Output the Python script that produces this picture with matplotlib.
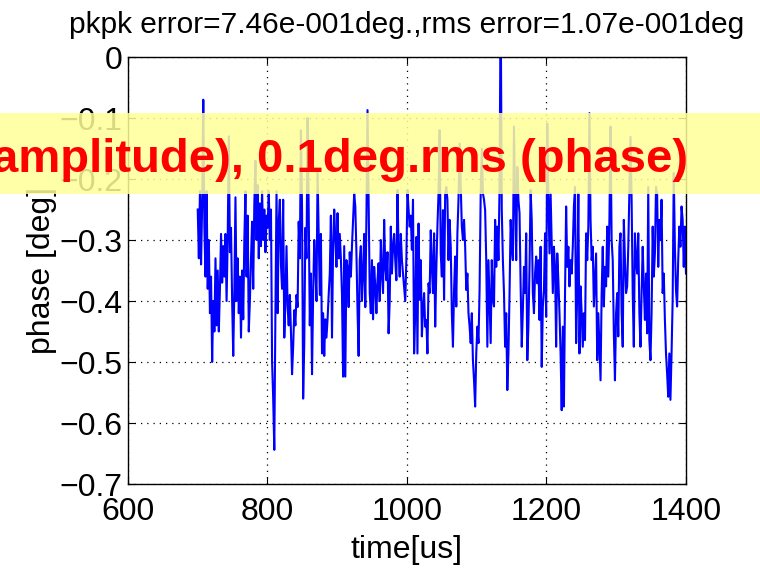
import numpy as np
import matplotlib
matplotlib.use('Agg')
import matplotlib.pyplot as plt
from matplotlib.patches import Rectangle

# phase error samples, ~1.6 us apart, 700..1400 us
seg1 = [-0.25, -0.33, -0.22, -0.34, -0.24, -0.07, -0.28, -0.36, -0.22, -0.38, -0.30, -0.42,
        -0.36, -0.50, -0.40, -0.45, -0.33, -0.44, -0.35, -0.45, -0.38, -0.29, -0.37, -0.31,
        -0.36, -0.29, -0.40, -0.30, -0.13, -0.32, -0.28, -0.40, -0.49, -0.38, -0.23, -0.40,
        -0.33, -0.42, -0.36, -0.46, -0.35, -0.43, -0.30, -0.22, -0.36, -0.26, -0.45, -0.40,
        -0.33, -0.27, -0.38, -0.24, -0.17, -0.30, -0.21, -0.33, -0.24, -0.31, -0.22, -0.30,
        -0.25, -0.32, -0.26, -0.28, -0.22, -0.30]
seg2 = [-0.25, -0.50, -0.56, -0.644, -0.42, -0.22, -0.42, -0.27, -0.234, -0.34, -0.38, -0.234,
        -0.46, -0.40, -0.31, -0.41, -0.44, -0.39, -0.45, -0.52, -0.475, -0.415, -0.44, -0.39,
        -0.41, -0.27, -0.33, -0.12, -0.25, -0.56, -0.47, -0.28, -0.33, -0.10, -0.25, -0.44,
        -0.355, -0.52, -0.39, -0.30, -0.344, -0.40, -0.19, -0.29, -0.39, -0.29, -0.486, -0.42,
        -0.49, -0.43, -0.46, -0.43, -0.39, -0.355, -0.26, -0.46, -0.31, -0.25, -0.30, -0.344,
        -0.256, -0.33, -0.29, -0.33, -0.39, -0.524]
seg3 = [-0.31, -0.524, -0.333, -0.344, -0.41, -0.32, -0.36, -0.31, -0.267, -0.2235, -0.245, -0.32,
        -0.415, -0.49, -0.333, -0.31, -0.40, -0.355, -0.29, -0.41, -0.267, -0.087, -0.234, -0.387,
        -0.42, -0.333, -0.43, -0.344, -0.376, -0.42, -0.366, -0.338, -0.40, -0.30, -0.355, -0.387,
        -0.267, -0.344, -0.366, -0.32, -0.453, -0.40, -0.278, -0.355, -0.31, -0.29, -0.333, -0.366,
        -0.218, -0.316, -0.36, -0.29, -0.333, -0.355, -0.376, -0.40, -0.333, -0.218, -0.25, -0.278,
        -0.26, -0.316, -0.234, -0.486, -0.42, -0.295]
seg4 = [-0.486, -0.273, -0.398, -0.333, -0.458, -0.415, -0.387, -0.442, -0.431, -0.486, -0.371, -0.387,
        -0.284, -0.344, -0.387, -0.289, -0.442, -0.349, -0.278, -0.2235, -0.12, -0.322, -0.36, -0.251,
        -0.398, -0.2235, -0.213, -0.234, -0.333, -0.267, -0.311, -0.42, -0.475, -0.382, -0.327, -0.409,
        -0.289, -0.234, -0.142, -0.207, -0.278, -0.30, -0.267, -0.311, -0.382, -0.355, -0.42, -0.442,
        -0.469, -0.42, -0.497, -0.53, -0.573, -0.486, -0.442, -0.469, -0.382, -0.2235, -0.15, -0.2235,
        -0.234, -0.251, -0.333, -0.475, -0.333, -0.398]
seg5 = [-0.469, -0.333, -0.398, -0.409, -0.267, -0.344, -0.278, -0.333, -0.213, 0.10, -0.251, -0.333,
        -0.387, -0.475, -0.42, -0.546, -0.486, -0.387, -0.267, -0.311, -0.333, -0.114, -0.234, -0.333,
        -0.18, -0.234, -0.256, -0.376, -0.475, -0.415, -0.344, -0.387, -0.289, -0.497, -0.442, -0.344,
        -0.218, -0.267, -0.387, -0.42, -0.355, -0.327, -0.371, -0.333, -0.431, -0.311, -0.508, -0.409,
        -0.382, -0.289, -0.426, -0.109, -0.234, -0.322, -0.2235, -0.305, -0.387, -0.311, -0.344, -0.475,
        -0.322, -0.366, -0.42, -0.486, -0.579, -0.442]
seg6 = [-0.573, -0.387, -0.245, -0.344, -0.311, -0.376, -0.333, -0.355, -0.311, -0.245, -0.213, -0.469,
        -0.387, -0.2235, -0.486, -0.376, -0.42, -0.475, -0.42, -0.464, -0.289, -0.333, -0.278, -0.092,
        -0.267, -0.333, -0.311, -0.409, -0.366, -0.322, -0.497, -0.42, -0.475, -0.53, -0.387, -0.311,
        -0.409, -0.344, -0.376, -0.278, -0.36, -0.267, -0.114, -0.30, -0.333, -0.453, -0.53, -0.42,
        -0.387, -0.458, -0.311, -0.289, -0.42, -0.475, -0.267, -0.333, -0.387, -0.376, -0.311, -0.2235,
        -0.131, -0.234, -0.387, -0.475, -0.289, -0.333]
seg7 = [-0.355, -0.289, -0.42, -0.475, -0.387, -0.311, -0.376, -0.431, -0.355, -0.453, -0.213, -0.464,
        -0.497, -0.42, -0.278, -0.36, -0.322, -0.213, -0.2235, -0.344, -0.267, -0.30, -0.234, -0.387,
        -0.355, -0.431, -0.486, -0.519, -0.557, -0.486, -0.562, -0.486, -0.398, -0.19, -0.311, -0.382,
        -0.409, -0.333, -0.278, -0.311, -0.245, -0.267, -0.344, -0.278, -0.355]

phase = np.array(seg1 + seg2 + seg3 + seg4 + seg5 + seg6 + seg7)
t = np.linspace(700, 1400, len(phase))

xticks = [600, 800, 1000, 1200, 1400]
yticks = [-0.7, -0.6, -0.5, -0.4, -0.3, -0.2, -0.1, 0]
title = 'pkpk error=7.46e-001deg.,rms error=1.07e-001deg'
banner = 'amplitude), 0.1deg.rms (phase)'

plt.rcParams['font.family'] = ['Liberation Sans', 'DejaVu Sans']

fig = plt.figure(figsize=(7.6, 5.73), dpi=100)
ax = fig.add_axes([0.1684, 0.1553, 0.7342, 0.7452])
ax.plot(t, phase, color='#0000ff', linewidth=1.5)
ax.set_xlim(600, 1400)
ax.set_ylim(-0.7, 0)
ax.set_xticks(xticks)
ax.set_yticks(yticks)
ax.set_yticklabels([('%g' % v).replace('-', '\u2212') for v in yticks])
ax.grid(True, linestyle=(0, (1, 4)), color='black', linewidth=0.9)
ax.tick_params(direction='in', top=True, right=True, length=5, labelsize=23)
ax.tick_params(axis='x', pad=9)
ax.tick_params(axis='y', pad=4)
for s in ax.spines.values():
    s.set_linewidth(1.0)
ax.set_xlabel('time[us]', fontsize=23)
ax.xaxis.set_label_coords(0.5, -0.12)
ax.set_ylabel('phase [deg]', fontsize=23)
ax.yaxis.set_label_coords(-0.128, 0.5)
ax.set_title(title, fontsize=21.5, pad=17)

# semi-transparent yellow banner across the figure
fig.patches.append(Rectangle((0, 1 - 194 / 573), 1, 81 / 573, transform=fig.transFigure,
                             facecolor='#ffff99', alpha=0.85, edgecolor='none', zorder=5))
fig.text(688 / 760, 1 - 172 / 573, banner, ha='right', va='baseline', color='#ff0000',
         fontsize=34, fontweight='bold', zorder=6)

fig.savefig('out.png', dpi=100)
